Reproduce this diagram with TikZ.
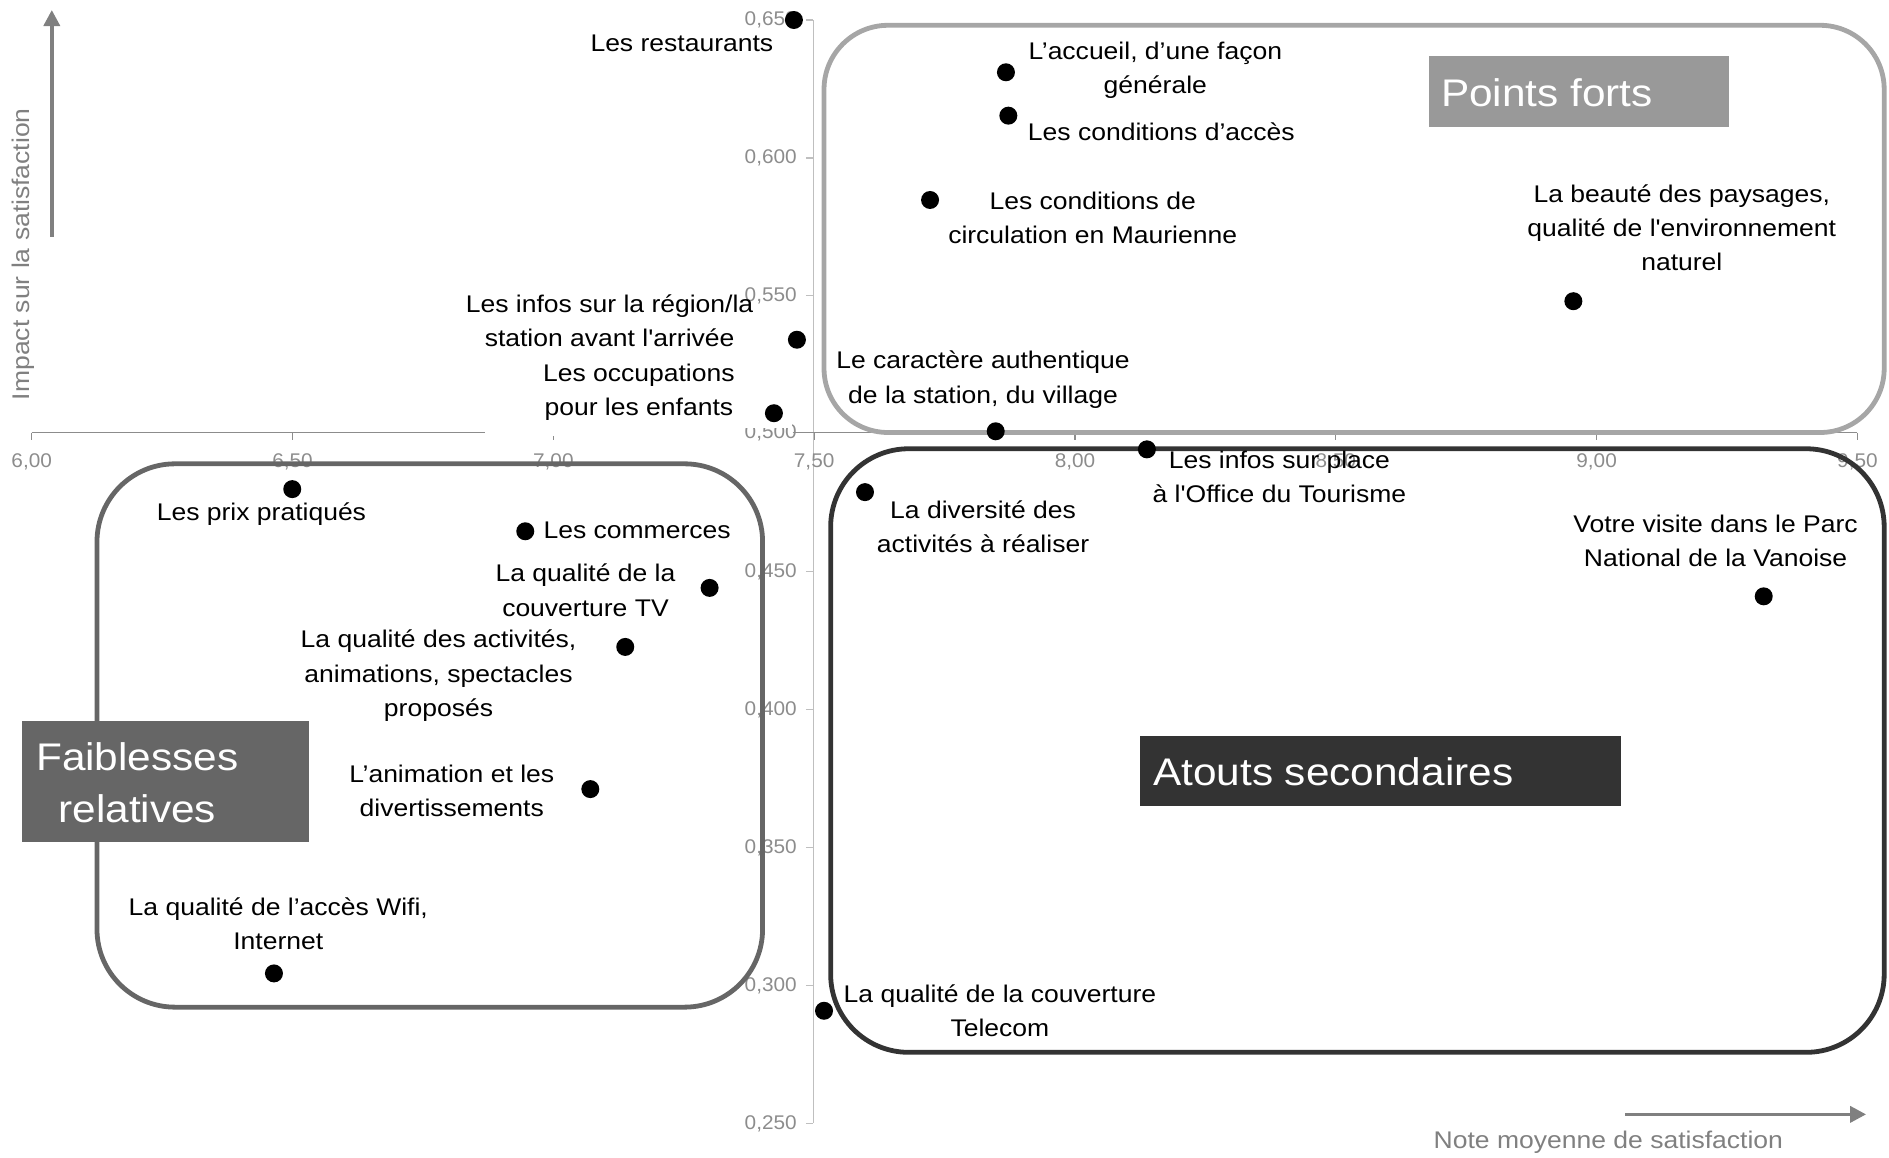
\documentclass[tikz,border=0pt]{standalone}
\usepackage{fontspec}
\newfontfamily\labfont{Liberation Sans}[FakeStretch=1.1]
\newfontfamily\tickfont{Liberation Sans}[FakeStretch=1.05]
\usetikzlibrary{arrows.meta}
\definecolor{fortline}{HTML}{A6A6A6}
\definecolor{fortfill}{HTML}{999999}
\definecolor{faibline}{HTML}{666666}
\definecolor{faibfill}{HTML}{666666}
\definecolor{atoutline}{HTML}{333333}
\definecolor{atoutfill}{HTML}{333333}
\definecolor{tickgray}{HTML}{8C8C8C}
\definecolor{titlegray}{HTML}{808080}
\definecolor{yaxisgray}{HTML}{BFBFBF}
\begin{document}
\begin{tikzpicture}[x=1.2047pt,y=-1.2047pt,
  lbl/.style={align=center,font=\labfont\fontsize{24.1}{34.3}\selectfont,inner sep=0pt},
  dot/.style={circle,fill=black,inner sep=0pt,minimum size=18pt},
  tickx/.style={font=\tickfont\fontsize{19.8}{21}\selectfont,text=tickgray,inner sep=0pt},
  ticky/.style={tickx,anchor=east},
  axtitle/.style={font=\labfont\fontsize{24.1}{28}\selectfont,text=titlegray,inner sep=0pt},
  bigtxt/.style={font=\labfont\fontsize{38.5}{51.8}\selectfont,text=white,inner sep=0pt,align=center},
  quadbox/.style={line width=4.8pt},
  tagbox/.style={inner sep=0pt,anchor=north west},
  axline/.style={draw=tickgray,line width=1.3pt},
  yline/.style={draw=yaxisgray,line width=1.3pt},
  axarrow/.style={draw=titlegray,line width=3.6pt,-{Triangle[length=16pt,width=16pt]}}
]
\useasboundingbox (0,0) rectangle (1568,960.4);

% axes
\draw[yline] (675,16.6) -- (675,932.5);
\foreach \yy in {16.6,131.1,245.5,359,474.5,589,703.5,818,932.5}
  \draw[yline] (669,\yy) -- (675,\yy);
\draw[axline] (26.3,359) -- (402.6,359);
\draw[axline] (658,359) -- (1541.8,359);
\foreach \xx in {26.3,242.8,675.8,892.3,1108.8,1325.3,1541.8}
  \draw[axline] (\xx,359) -- (\xx,365);
\draw[axline] (459.3,362) -- (459.3,365);

% tick labels
\node[tickx] (tx0) at (26.3,383.6) {6,00};
\node[tickx] (tx1) at (242.8,383.6) {6,50};
\node[tickx] (tx2) at (459.3,383.6) {7,00};
\node[tickx] (tx3) at (675.8,383.6) {7,50};
\node[tickx] (tx4) at (892.3,383.6) {8,00};
\node[tickx] (tx5) at (1108.8,383.6) {8,50};
\node[tickx] (tx6) at (1325.3,383.6) {9,00};
\node[tickx] (tx7) at (1541.8,383.6) {9,50};
\node[ticky] (ty0) at (661.5,16.6) {0,650};
\node[ticky] (ty1) at (661.5,131.1) {0,600};
\node[ticky] (ty2) at (661.5,245.5) {0,550};
\node[ticky] (ty3) at (661.5,359.5) {0,500};
\node[ticky] (ty4) at (661.5,474.5) {0,450};
\node[ticky] (ty5) at (661.5,589) {0,400};
\node[ticky] (ty6) at (661.5,703.5) {0,350};
\node[ticky] (ty7) at (661.5,818) {0,300};
\node[ticky] (ty8) at (661.5,932.5) {0,250};

% axis arrows and titles
\coordinate (ya0) at (43,196.5);
\coordinate (ya1) at (43,8.3);
\draw[axarrow] (ya0) -- (ya1);
\node[axtitle,rotate=90] (ytitle) at (19,211) {Impact sur la satisfaction};
\coordinate (xa0) at (1349,925);
\coordinate (xa1) at (1549,925);
\draw[axarrow] (xa0) -- (xa1);
\node[axtitle] (xtitle) at (1335,948) {Note moyenne de satisfaction};

% quadrant boxes
\draw[quadbox,draw=fortline,rounded corners=64pt] (684,21) rectangle (1564,359);
\draw[quadbox,draw=atoutline,rounded corners=78pt] (689.5,372.5) rectangle (1564,873.5);
\draw[quadbox,draw=faibline,rounded corners=78pt] (80.5,385) rectangle (633,836);

% quadrant tags
\node[tagbox,fill=fortfill,minimum width=300pt,minimum height=70.5pt] (tagfort) at (1186,46.5) {};
\node[bigtxt,anchor=west] (tagforttxt) at (1196,77) {Points forts};
\node[tagbox,fill=atoutfill,minimum width=480.7pt,minimum height=69.9pt] (tagatout) at (946,611) {};
\node[bigtxt,anchor=west] (tagatouttxt) at (957,641) {Atouts secondaires};
\node[tagbox,fill=faibfill,minimum width=286.7pt,minimum height=121.7pt] (tagfaib) at (18,598) {};
\node[bigtxt] (tagfaibtxt) at (114,650) {Faiblesses\\relatives};

% point labels
\node[lbl] (l1) at (566,36) {Les restaurants};
\node[lbl] (l2) at (959,58.5) {L’accueil, d’une façon\\générale};
\node[lbl] (l3) at (964,109) {Les conditions d’accès};
\node[lbl] (l4) at (907,181) {Les conditions de\\circulation en Maurienne};
\node[lbl] (l5) at (1396,189) {La beauté des paysages,\\qualité de l'environnement\\naturel};
\node[lbl] (l6) at (506,266.5) {Les infos sur la région/la\\station avant l'arrivée};
\node[lbl,fill=white,minimum width=307pt,minimum height=72pt] (l7) at (530.3,325.5) {Les occupations\\pour les enfants};
\node[lbl] (l8) at (816,315) {Le caractère authentique\\de la station, du village};
\node[lbl] (l9) at (1062,396) {Les infos sur place\\à l'Office du Tourisme};
\node[lbl] (l10) at (816,437) {La diversité des\\activités à réaliser};
\node[lbl] (l11) at (217,427) {Les prix pratiqués};
\node[lbl,anchor=west] (l12) at (451,440) {Les commerces};
\node[lbl] (l13) at (486,490) {La qualité de la\\couverture TV};
\node[lbl] (l14) at (364,561) {La qualité des activités,\\animations, spectacles\\proposés};
\node[lbl] (l15) at (375,656.5) {L’animation et les\\divertissements};
\node[lbl] (l16) at (231,767) {La qualité de l’accès Wifi,\\Internet};
\node[lbl] (l17) at (830,839) {La qualité de la couverture\\Telecom};
\node[lbl] (l18) at (1424,449) {Votre visite dans le Parc\\National de la Vanoise};

% data points
\node[dot] (p1) at (659,16.6) {};
\node[dot] (p2) at (835,60) {};
\node[dot] (p3) at (837,96) {};
\node[dot] (p4) at (772,166) {};
\node[dot] (p5) at (1306,250) {};
\node[dot] (p6) at (661.5,282) {};
\node[dot] (p7) at (642.4,343) {};
\node[dot] (p8) at (826.5,358) {};
\node[dot] (p9) at (952,373) {};
\node[dot] (p10) at (718,408.5) {};
\node[dot] (p11) at (242.6,406) {};
\node[dot] (p12) at (436,441) {};
\node[dot] (p13) at (589,488) {};
\node[dot] (p14) at (519,537) {};
\node[dot] (p15) at (490,655) {};
\node[dot] (p16) at (227.4,808) {};
\node[dot] (p17) at (684,839) {};
\node[dot] (p18) at (1464,495) {};
\end{tikzpicture}
\end{document}
